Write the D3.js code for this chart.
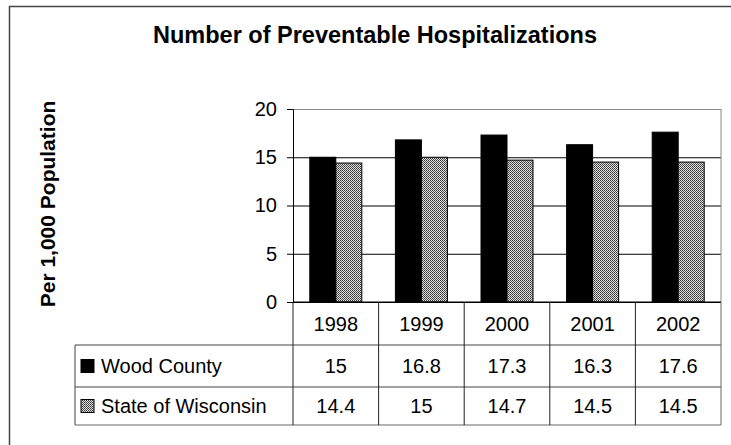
<!DOCTYPE html>
<html lang="en">
<head>
<meta charset="utf-8">
<title>Preventable Hospitalizations</title>
<script src="https://cdn.jsdelivr.net/npm/d3@7"></script>
<style>
  body { margin: 0; background: #fff; overflow: hidden; }
  svg { display: block; }
  text { font-family: "Liberation Sans", Arial, sans-serif; fill: #000; }
</style>
</head>
<body>
<script>
// data
var years = ["1998", "1999", "2000", "2001", "2002"];
var seriesNames = ["Wood County", "State of Wisconsin"];
var wood = [15, 16.8, 17.3, 16.3, 17.6];
var wisconsin = [14.4, 15, 14.7, 14.5, 14.5];
var yTicks = [0, 5, 10, 15, 20];

var w = 731, h = 445;
// note: "top" is taken by window.top, so use plot* names
var plotLeft = 293, plotRight = 721, plotTop = 109, plotBottom = 302;
var tableLeft = 75;
var rowLines = [302, 345, 387, 425];

var svg = d3.select("body").append("svg")
  .attr("width", w).attr("height", h);

// pattern for the state bars
var pat = svg.append("defs").append("pattern")
  .attr("id", "dots").attr("patternUnits", "userSpaceOnUse")
  .attr("width", 2).attr("height", 2);
pat.append("rect").attr("width", 2).attr("height", 2).attr("fill", "#e0e0e0");
pat.append("rect").attr("width", 1).attr("height", 1).attr("fill", "#333");
pat.append("rect").attr("x", 1).attr("y", 1).attr("width", 1).attr("height", 1).attr("fill", "#555");

// outer chart frame (cut off at right/bottom)
svg.append("path")
  .attr("d", "M9.5," + h + "V6.5H" + w)
  .attr("fill", "none").attr("stroke", "#444").attr("stroke-width", 1.5);

var x = d3.scaleBand().domain(years).range([plotLeft, plotRight]);
var y = d3.scaleLinear().domain([0, 20]).range([plotBottom, plotTop]);
var xs = d3.scaleBand().domain(seriesNames).range([0, 52]);
var groupOff = (x.bandwidth() - 52) / 2;

// gridlines
svg.append("g")
  .attr("transform", "translate(" + plotLeft + ",0)")
  .call(d3.axisRight(y).tickValues(yTicks).tickSize(plotRight - plotLeft).tickFormat(""))
  .call(function(g) {
    g.select(".domain").remove();
    g.selectAll("line").attr("stroke", "#000");
    g.selectAll(".tick").filter(function(d) { return d === 20; })
      .select("line").attr("stroke", "#888");
  });

// plot border right
svg.append("line")
  .attr("x1", plotRight).attr("x2", plotRight).attr("y1", plotTop).attr("y2", plotBottom)
  .attr("stroke", "#888");

// bars
var values = [wood, wisconsin];
var fills = ["#000", "url(#dots)"];
seriesNames.forEach(function(s, si) {
  svg.append("g").selectAll("rect")
    .data(values[si])
    .enter().append("rect")
    .attr("x", function(d, i) { return x(years[i]) + groupOff + xs(s); })
    .attr("y", function(d) { return y(d); })
    .attr("width", xs.bandwidth())
    .attr("height", function(d) { return plotBottom - y(d); })
    .attr("fill", fills[si])
    .attr("stroke", "#000")
    .attr("stroke-width", 1);
});

// y axis
svg.append("g")
  .attr("transform", "translate(" + plotLeft + ",0)")
  .call(d3.axisLeft(y).tickValues(yTicks).tickSize(6).tickPadding(10))
  .call(function(g) {
    g.select(".domain").attr("stroke", "#000");
    g.selectAll("line").attr("stroke", "#000");
    g.selectAll("text").attr("font-size", "20px")
      .attr("font-family", "Liberation Sans, Arial, sans-serif")
      .attr("fill", "#000");
  });

// axis baseline
svg.append("line")
  .attr("x1", plotLeft).attr("x2", plotRight).attr("y1", plotBottom).attr("y2", plotBottom)
  .attr("stroke", "#000");

// data table
var tbl = svg.append("g");
tbl.append("line").attr("x1", tableLeft).attr("x2", plotRight)
  .attr("y1", rowLines[1]).attr("y2", rowLines[1]).attr("stroke", "#444");
tbl.append("line").attr("x1", tableLeft).attr("x2", plotRight)
  .attr("y1", rowLines[2]).attr("y2", rowLines[2]).attr("stroke", "#444");
tbl.append("line").attr("x1", tableLeft).attr("x2", plotRight)
  .attr("y1", rowLines[3]).attr("y2", rowLines[3]).attr("stroke", "#666");
tbl.append("line").attr("x1", tableLeft).attr("x2", tableLeft)
  .attr("y1", rowLines[1]).attr("y2", rowLines[3]).attr("stroke", "#444");
tbl.selectAll("line.col")
  .data(years.concat(["end"]))
  .enter().append("line")
  .attr("class", "col")
  .attr("x1", function(d) { return d === "end" ? plotRight : x(d); })
  .attr("x2", function(d) { return d === "end" ? plotRight : x(d); })
  .attr("y1", rowLines[0]).attr("y2", rowLines[3])
  .attr("stroke", function(d) { return d === "end" ? "#666" : "#222"; });

// header years
tbl.selectAll("text.year")
  .data(years)
  .enter().append("text")
  .attr("class", "year")
  .attr("x", function(d) { return x(d) + x.bandwidth() / 2; })
  .attr("y", (rowLines[0] + rowLines[1]) / 2)
  .attr("dy", "0.36em")
  .attr("text-anchor", "middle")
  .attr("font-size", "20px")
  .text(function(d) { return d; });

// value rows
seriesNames.forEach(function(s, si) {
  var cy = (rowLines[si + 1] + rowLines[si + 2]) / 2;
  tbl.append("rect")
    .attr("x", 81).attr("y", cy - 6.5).attr("width", 13).attr("height", 13)
    .attr("fill", fills[si]).attr("stroke", "#000");
  tbl.append("text")
    .attr("x", 101).attr("y", cy).attr("dy", "0.36em")
    .attr("font-size", "20px")
    .text(s);
  tbl.selectAll("text.v" + si)
    .data(values[si])
    .enter().append("text")
    .attr("class", "v" + si)
    .attr("x", function(d, i) { return x(years[i]) + x.bandwidth() / 2; })
    .attr("y", cy).attr("dy", "0.36em")
    .attr("text-anchor", "middle")
    .attr("font-size", "20px")
    .text(function(d) { return d; });
});

// title
svg.append("text")
  .attr("x", 375).attr("y", 43)
  .attr("text-anchor", "middle")
  .attr("font-size", "23.5px").attr("font-weight", "bold")
  .text("Number of Preventable Hospitalizations");

// y label
svg.append("text")
  .attr("transform", "translate(55,204) rotate(-90)")
  .attr("text-anchor", "middle")
  .attr("font-size", "21px").attr("font-weight", "bold")
  .text("Per 1,000 Population");
</script>
</body>
</html>
